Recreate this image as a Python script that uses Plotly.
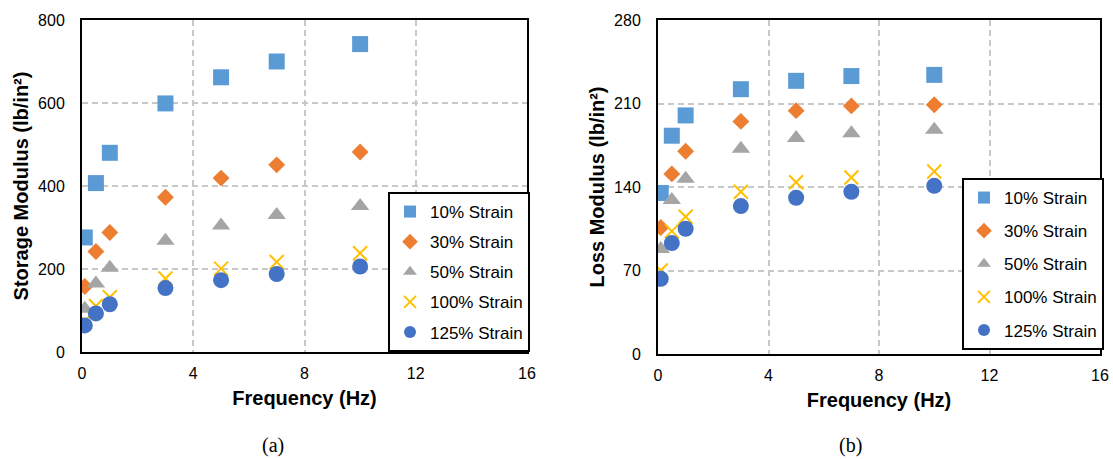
import plotly.graph_objects as go

freq = [0.1, 0.5, 1, 3, 5, 7, 10]
series_names = ["10% Strain", "30% Strain", "50% Strain", "100% Strain", "125% Strain"]

storage_10 = [276, 407, 480, 599, 662, 700, 742]
storage_30 = [158, 242, 288, 373, 419, 451, 482]
storage_50 = [104, 165, 203, 268, 305, 330, 352]
storage_100 = [75, 111, 132, 177, 201, 217, 238]
storage_125 = [64, 93, 115, 154, 173, 188, 206]

loss_10 = [135, 183, 200, 222, 229, 233, 234]
loss_30 = [106, 151, 170, 195, 204, 208, 209]
loss_50 = [88, 129, 147, 172, 181, 185, 188]
loss_100 = [70, 103, 115, 136, 144, 148, 153]
loss_125 = [63, 93, 105, 124, 131, 136, 141]

x_ticks = [0, 4, 8, 12, 16]
storage_ticks = [0, 200, 400, 600, 800]
loss_ticks = [0, 70, 140, 210, 280]

colors = ["#5B9BD5", "#ED7D31", "#A5A5A5", "#FFC000", "#4472C4"]
symbols = ["square", "diamond", "triangle-up", "x-thin", "circle"]
sizes = [16, 13, 16, 14, 16]

W, H = 1113, 459
def px(x):
    return x / W
def py(y):
    return 1 - y / H

fig = go.Figure()

storage = [storage_10, storage_30, storage_50, storage_100, storage_125]
loss = [loss_10, loss_30, loss_50, loss_100, loss_125]

for i, name in enumerate(series_names):
    mk = dict(color=colors[i], symbol=symbols[i], size=sizes[i])
    if symbols[i] == "x-thin":
        mk["line"] = dict(color=colors[i], width=2)
    else:
        mk["line"] = dict(width=0)
    fig.add_trace(go.Scatter(x=freq, y=storage[i], mode="markers", name=name,
                             marker=mk, xaxis="x", yaxis="y", legend="legend",
                             legendgroup="a" + str(i)))
for i, name in enumerate(series_names):
    mk = dict(color=colors[i], symbol=symbols[i], size=sizes[i])
    if symbols[i] == "x-thin":
        mk["line"] = dict(color=colors[i], width=2)
    else:
        mk["line"] = dict(width=0)
    fig.add_trace(go.Scatter(x=freq, y=loss[i], mode="markers", name=name,
                             marker=mk, xaxis="x2", yaxis="y2", legend="legend2",
                             legendgroup="b" + str(i)))

tickfont = dict(family="Liberation Sans, Arial", size=16, color="#000000")
titlefont = dict(family="Liberation Sans, Arial", size=20, color="#000000")
grid = dict(showgrid=True, gridcolor="#C8C8C8", gridwidth=1.5, griddash="6px,4px",
            showline=True, linecolor="#000000", linewidth=2, mirror=True,
            zeroline=False, ticks="outside", tickcolor="rgba(0,0,0,0)",
            tickfont=tickfont, automargin=False)
legfont = dict(family="Liberation Sans, Arial", size=17, color="#000000")

fig.update_layout(
    width=W, height=H,
    margin=dict(l=0, r=0, t=0, b=0, autoexpand=False),
    paper_bgcolor="white", plot_bgcolor="white",
    font=dict(family="Liberation Sans, Arial", color="#000000"),
    xaxis=dict(domain=[px(82), px(527)], range=[0, 16], tickvals=x_ticks, ticklen=6,
               title=dict(text="<b>Frequency (Hz)</b>", font=titlefont, standoff=10),
               anchor="y", **grid),
    yaxis=dict(domain=[py(352), py(20)], range=[0, 800], tickvals=storage_ticks, ticklen=12,
               title=dict(text="<b>Storage Modulus (lb/in²)</b>", font=titlefont, standoff=4),
               anchor="x", **grid),
    xaxis2=dict(domain=[px(658), px(1100)], range=[0, 16], tickvals=x_ticks, ticklen=6,
                title=dict(text="<b>Frequency (Hz)</b>", font=titlefont, standoff=10),
                anchor="y2", **grid),
    yaxis2=dict(domain=[py(354), py(20)], range=[0, 280], tickvals=loss_ticks, ticklen=12,
                title=dict(text="<b>Loss Modulus (lb/in²)</b>", font=titlefont, standoff=4),
                anchor="x2", **grid),
    legend=dict(x=px(388), y=py(192), xanchor="left", yanchor="top",
                bordercolor="#000000", borderwidth=2, bgcolor="white",
                font=legfont, itemsizing="constant",
                tracegroupgap=5, itemwidth=30),
    legend2=dict(x=px(962), y=py(178), xanchor="left", yanchor="top",
                 bordercolor="#000000", borderwidth=2, bgcolor="white",
                 font=legfont, itemsizing="constant",
                 tracegroupgap=8, itemwidth=30),
    annotations=[
        dict(text="(a)", x=px(273), y=py(445), xref="paper", yref="paper",
             xanchor="center", yanchor="middle", showarrow=False,
             font=dict(family="Liberation Serif, Times New Roman", size=20)),
        dict(text="(b)", x=px(850), y=py(445), xref="paper", yref="paper",
             xanchor="center", yanchor="middle", showarrow=False,
             font=dict(family="Liberation Serif, Times New Roman", size=20)),
    ],
)

fig.write_html("out.html", config={"displayModeBar": False},
               post_script="document.body.style.margin='0';document.body.style.overflow='hidden';")
